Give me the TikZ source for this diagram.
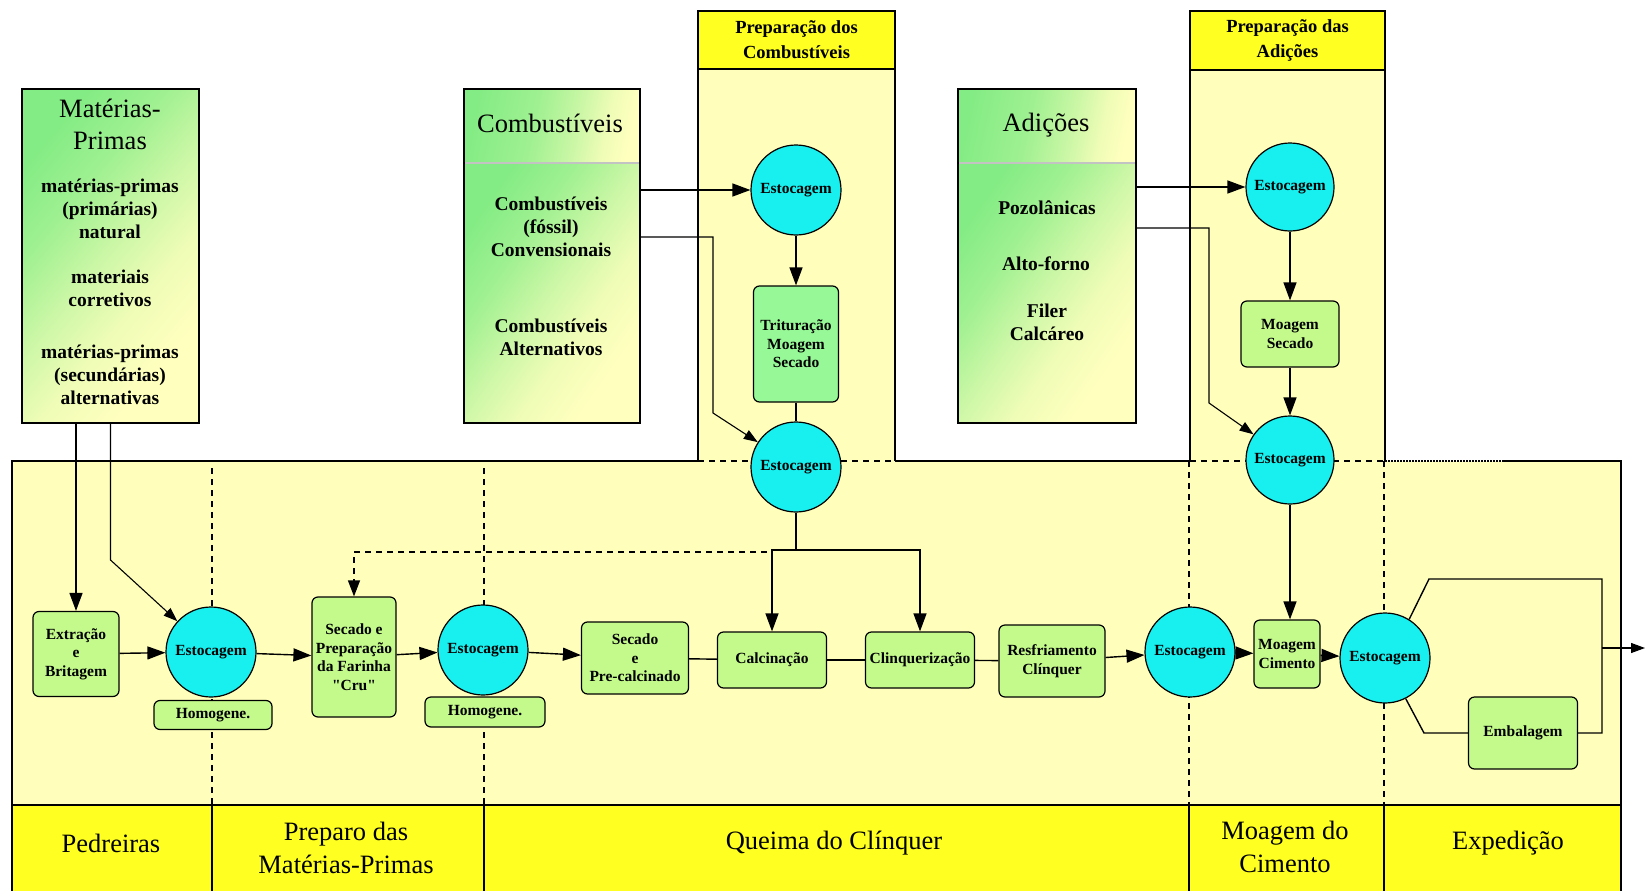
\documentclass[tikz,border=0pt]{standalone}
\usepackage{fontspec}
\setmainfont{Liberation Serif}
\newfontfamily\plainserif{Liberation Serif}
\usetikzlibrary{arrows.meta,calc}

\definecolor{paleyel}{RGB}{255,255,187}
\definecolor{bandyel}{RGB}{255,255,34}
\definecolor{stockcyan}{RGB}{24,240,240}
\definecolor{procgreen}{RGB}{196,250,140}
\definecolor{mintgreen}{RGB}{150,248,150}
\definecolor{srcgreen}{RGB}{132,236,132}
\definecolor{srcyel}{RGB}{255,255,190}
\definecolor{sepgray}{RGB}{195,195,195}
\colorlet{srcA}{srcgreen!78!srcyel}
\colorlet{srcB}{srcgreen!42!srcyel}
\colorlet{srcC}{srcgreen!14!srcyel}

% gradients of the source boxes: green at the upper left, pale yellow at the lower right
\pgfdeclarehorizontalshading{srcfade}{100bp}{color(0bp)=(srcgreen); color(25bp)=(srcgreen); color(37bp)=(srcA); color(49bp)=(srcB); color(60bp)=(srcC); color(72bp)=(srcyel); color(100bp)=(srcyel)}
\pgfdeclarehorizontalshading{hdrfade}{100bp}{color(0bp)=(srcgreen); color(25bp)=(srcgreen); color(44bp)=(srcA); color(58bp)=(srcB); color(67bp)=(srcC); color(75bp)=(srcyel); color(100bp)=(srcyel)}

\newcommand{\procfont}{\fontsize{15.5}{18.5}\selectfont\bfseries}
\newcommand{\headfont}{\fontsize{26.5}{32}\selectfont}
\newcommand{\bodyfont}{\fontsize{19.5}{23}\selectfont\bfseries}
\newcommand{\colfont}{\fontsize{18.5}{25}\selectfont\bfseries}
\newcommand{\bandfont}{\fontsize{26.5}{33}\selectfont}
\newcommand{\sq}{{\plainserif\bfseries "}}

\tikzset{
  line/.style={line width=1.4pt, draw=black},
  arr/.style={line, -{Triangle[length=18pt,width=13pt]}},
  arrs/.style={line width=1.1pt, draw=black, -{Triangle[length=14pt,width=10pt]}},
  stock/.style={circle, draw, line width=1.2pt, fill=stockcyan, minimum size=90pt, inner sep=0pt, font=\procfont},
  procbox/.style={draw, line width=1.2pt, rounded corners=6pt, fill=procgreen, align=center, inner sep=0pt, font=\procfont},
  source/.style={draw, line width=1.3pt, inner sep=0pt},
  txt/.style={align=center, inner sep=0pt},
  colhead/.style={draw, line width=1.3pt, fill=bandyel, align=center, inner sep=0pt, font=\colfont},
  sect/.style={line width=1.2pt, dash pattern=on 6pt off 5pt},
  sepline/.style={line width=1.2pt, draw=sepgray},
}

\begin{document}
\begin{tikzpicture}[x=1pt,y=-1pt]
\useasboundingbox (0,0) rectangle (1646,891);
\fill[white] (0,0) rectangle (1646,891);

% ---- process area and preparation columns
\fill[paleyel] (12,461) rectangle (1621,805);
\fill[paleyel] (698,11) rectangle (895,461);
\fill[paleyel] (1190,11) rectangle (1385,461);

% stage boundaries
\draw[sect] (212,468) -- (212,805);
\draw[sect] (484,468) -- (484,805);
\draw[sect] (1189,461) -- (1189,805);
\draw[sect] (1384,461) -- (1384,805);

% frame outline
\draw[line] (12,805) -- (12,461) -- (698,461);
\draw[sect] (698,461) -- (895,461);
\draw[line] (895,461) -- (1190,461);
\draw[sect] (1190,461) -- (1385,461);
\draw[line width=1.5pt, dash pattern=on 1.5pt off 1.5pt] (1385,461) -- (1503,461);
\draw[line] (1503,461) -- (1621,461) -- (1621,805);
\draw[line] (698,69) -- (698,461);
\draw[line] (895,69) -- (895,461);
\draw[line] (1190,70) -- (1190,461);
\draw[line] (1385,70) -- (1385,461);

% stage band
\fill[bandyel] (12,805) rectangle (1621,895);
\draw[line] (12,895) -- (12,805) -- (1621,805) -- (1621,895);
\draw[line] (212,805) -- (212,895);
\draw[line] (484,805) -- (484,895);
\draw[line] (1189,805) -- (1189,895);
\draw[line] (1384,805) -- (1384,895);
\node[txt, font=\bandfont] (bped) at (111,843) {Pedreiras};
\node[txt, font=\bandfont] (bprep) at (346,848) {Preparo das\\Matérias-Primas};
\node[txt, font=\bandfont] (bqueima) at (834,843) {Queima do Clínquer};
\node[txt, font=\bandfont] (bmoag) at (1285,847) {Moagem do\\Cimento};
\node[txt, font=\bandfont] (bexp) at (1508,843) {Expedição};

% ---- column headers
\node[colhead, minimum width=197pt, minimum height=58pt] (fhead) at (796.5,40) {Preparação dos\\Combustíveis};
\node[colhead, minimum width=195pt, minimum height=59pt] (ahead) at (1287.5,40.5) {Preparação das\\Adições};

% ---- raw material sources
\shade[shading=srcfade, shading angle=-40] (22,89) rectangle (199,423);
\node[source, minimum width=177pt, minimum height=334pt] (mp) at (110.5,256) {};
\node[txt, font=\headfont] (mph) at (110,124) {Matérias-\\Primas};
\node[txt, font=\bodyfont] (mp1) at (110,209) {matérias-primas\\(primárias)\\natural};
\node[txt, font=\bodyfont] (mp2) at (110,288) {materiais\\corretivos};
\node[txt, font=\bodyfont] (mp3) at (110,375) {matérias-primas\\(secundárias)\\alternativas};

\shade[shading=hdrfade, shading angle=-12] (464,89) rectangle (640,163);
\shade[shading=srcfade, shading angle=-35] (464,163) rectangle (640,423);
\node[source, minimum width=176pt, minimum height=334pt] (comb) at (552,256) {};
\draw[sepline] (465,163) -- (639,163);
\node[txt, font=\headfont] (combh) at (550,123) {Combustíveis};
\node[txt, font=\bodyfont] (comb1) at (551,227) {Combustíveis\\(fóssil)\\Convensionais};
\node[txt, font=\bodyfont] (comb2) at (551,337) {Combustíveis\\Alternativos};

\shade[shading=hdrfade, shading angle=-12] (958,89) rectangle (1136,163);
\shade[shading=srcfade, shading angle=-35] (958,163) rectangle (1136,423);
\node[source, minimum width=178pt, minimum height=334pt] (add) at (1047,256) {};
\draw[sepline] (959,163) -- (1135,163);
\node[txt, font=\headfont] (addh) at (1046,125) {Adições};
\node[txt, font=\bodyfont] (add1) at (1047,208) {Pozolânicas};
\node[txt, font=\bodyfont] (add2) at (1046,264) {Alto-forno};
\node[txt, font=\bodyfont] (add3) at (1047,322) {Filer\\Calcáreo};

% ---- fuel preparation
\node[stock] (fst1) at (796,190) {Estocagem};
\node[procbox, fill=mintgreen, minimum width=85pt, minimum height=116pt] (trit) at (796,344) {Trituração\\Moagem\\Secado};
\node[stock] (fst2) at (796,467) {Estocagem};

% ---- additions preparation
\node[stock, minimum size=88pt] (ast1) at (1290,187) {Estocagem};
\node[procbox, minimum width=98pt, minimum height=66pt] (ms) at (1290,334) {Moagem\\Secado};
\node[stock, minimum size=88pt] (ast2) at (1290,460) {Estocagem};

% ---- main process line
\node[procbox, minimum width=86pt, minimum height=85pt] (ext) at (76,654) {Extração\\e\\Britagem};
\node[stock] (st1) at (211,652) {Estocagem};
\node[procbox, minimum width=118pt, minimum height=29pt] (h1) at (213,715) {Homogene.};
\node[procbox, minimum width=84pt, minimum height=120pt] (sp) at (354,657) {Secado e\\Preparação\\da Farinha\\\sq Cru\sq};
\node[stock] (st2) at (483,650) {Estocagem};
\node[procbox, minimum width=120pt, minimum height=30pt] (h2) at (485,712) {Homogene.};
\node[procbox, minimum width=107pt, minimum height=72pt] (spc) at (635,658) {Secado\\e\\Pre-calcinado};
\node[procbox, minimum width=109pt, minimum height=56pt] (calc) at (772,660) {Calcinação};
\node[procbox, minimum width=109pt, minimum height=56pt] (clq) at (920,660) {Clinquerização};
\node[procbox, minimum width=106pt, minimum height=72pt] (rf) at (1052,661) {Resfriamento\\Clínquer};
\node[stock] (st3) at (1190,652) {Estocagem};
\node[procbox, minimum width=66pt, minimum height=68pt] (mc) at (1287,654) {Moagem\\Cimento};
\node[stock] (st4) at (1385,658) {Estocagem};
\node[procbox, minimum width=109pt, minimum height=72pt] (emb) at (1523,733) {Embalagem};

% ---- connectors: sources
\draw[arr] (mp.south -| ext) -- (ext);
\coordinate (mb1) at (110.5,560);
\draw[arrs] (mp.south) -- (mb1) -- (st1);

\draw[arr] (comb.east |- fst1) -- (fst1);
\coordinate (cb1) at (713,237);
\coordinate (cb2) at (713,413);
\draw[arrs] (comb.east |- cb1) -- (cb1) -- (cb2) -- (fst2);
\draw[arr] (fst1) -- (trit);
\draw[line] (trit) -- (fst2);

\draw[arr] (add.east |- ast1) -- (ast1);
\coordinate (ab1) at (1209,228);
\coordinate (ab2) at (1209,403);
\draw[arrs] (add.east |- ab1) -- (ab1) -- (ab2) -- (ast2);
\draw[arr] (ast1) -- (ms);
\draw[arr] (ms) -- (ast2);
\draw[arr] (ast2) -- (ast2 |- mc.north);

% ---- connectors: fuel feed to the kiln
\coordinate (br) at (796,550);
\coordinate (dbr) at (767,552);
\draw[line] (fst2) -- (br);
\draw[arr] (br) -| (calc.north);
\draw[arr] (br) -| (clq.north);
\draw[sect, -{Triangle[length=16pt,width=12pt]}] (dbr) -| (sp.north);

% ---- connectors: main line
\draw[arr] (ext) -- (st1);
\draw[arr] (st1) -- (sp);
\draw[arr] (sp) -- (st2);
\draw[arr] (st2) -- (spc);
\draw[line] (spc) -- (calc);
\draw[line] (calc) -- (clq);
\draw[line] (clq) -- (rf);
\draw[arr] (rf) -- (st3);
\draw[arr] (st3) -- (mc);
\draw[arr] (mc) -- (st4);

% ---- dispatch
\coordinate (u1) at (1429,579);
\coordinate (u2) at (1602,579);
\coordinate (j) at (1602,648);
\coordinate (l1) at (1424,733);
\coordinate (l2) at (1602,733);
\coordinate (outend) at (1645,648);
\draw[line] (st4.58) -- (u1) -- (u2) -- (l2) -- (emb.east);
\draw[line] (st4.-63) -- (l1) -- (emb.west);
\draw[arrs] (j) -- (outend);
\end{tikzpicture}
\end{document}
